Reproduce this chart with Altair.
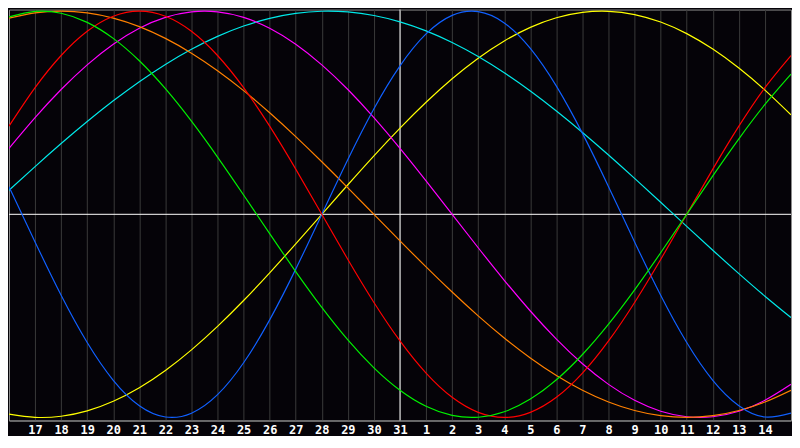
import altair as alt
import pandas as pd

# day index 0..30 across the chart (today = index 15, the 31st)
days = list(range(31))
day_labels = ["16", "17", "18", "19", "20", "21", "22", "23", "24", "25", "26", "27", "28", "29", "30", "31",
              "1", "2", "3", "4", "5", "6", "7", "8", "9", "10", "11", "12", "13", "14", "15"]
label_days = list(range(1, 30))
today_index = 15

# values (-1 .. 1) at each day line
physical = [0.1362, -0.1362, -0.3984, -0.6311, -0.8170, -0.9423, -0.9977, -0.9791, -0.8879, -0.7308,
            -0.5196, -0.2698, 0.0, 0.2698, 0.5196, 0.7308, 0.8879, 0.9791, 0.9977, 0.9423,
            0.8170, 0.6311, 0.3984, 0.1362, -0.1362, -0.3984, -0.6311, -0.8170, -0.9423, -0.9977, -0.9791]
emotional = [0.4339, 0.6235, 0.7818, 0.9010, 0.9749, 1.0, 0.9749, 0.9010, 0.7818, 0.6235,
             0.4339, 0.2225, 0.0, -0.2225, -0.4339, -0.6235, -0.7818, -0.9010, -0.9749, -1.0,
             -0.9749, -0.9010, -0.7818, -0.6235, -0.4339, -0.2225, 0.0, 0.2225, 0.4339, 0.6235, 0.7818]
intellectual = [0.9718, 0.9989, 0.9898, 0.9450, 0.8660, 0.7557, 0.6182, 0.4582, 0.2817, 0.0951,
                -0.0951, -0.2817, -0.4582, -0.6182, -0.7557, -0.8660, -0.9450, -0.9898, -0.9989, -0.9718,
                -0.9096, -0.8146, -0.6901, -0.5406, -0.3717, -0.1893, 0.0, 0.1893, 0.3717, 0.5406, 0.6901]
intuitive = [0.3247, 0.4759, 0.6142, 0.7357, 0.8372, 0.9158, 0.9694, 0.9966, 0.9966, 0.9694,
             0.9158, 0.8372, 0.7357, 0.6142, 0.4759, 0.3247, 0.1646, 0.0, -0.1646, -0.3247,
             -0.4759, -0.6142, -0.7357, -0.8372, -0.9158, -0.9694, -0.9966, -0.9966, -0.9694, -0.9158, -0.8372]
aesthetic = [-0.9834, -0.9993, -0.9940, -0.9675, -0.9203, -0.8536, -0.7686, -0.6672, -0.5517, -0.4245,
             -0.2881, -0.1456, 0.0, 0.1456, 0.2881, 0.4245, 0.5517, 0.6672, 0.7686, 0.8536,
             0.9203, 0.9675, 0.9940, 0.9993, 0.9834, 0.9465, 0.8894, 0.8133, 0.7199, 0.6112, 0.4894]
awareness = [0.9659, 0.9914, 1.0, 0.9914, 0.9659, 0.9239, 0.8660, 0.7934, 0.7071, 0.6088,
             0.5, 0.3827, 0.2588, 0.1305, 0.0, -0.1305, -0.2588, -0.3827, -0.5, -0.6088,
             -0.7071, -0.7934, -0.8660, -0.9239, -0.9659, -0.9914, -1.0, -0.9914, -0.9659, -0.9239, -0.8660]
spiritual = [0.1183, 0.2349, 0.3482, 0.4566, 0.5586, 0.6529, 0.7380, 0.8126, 0.8758, 0.9267,
             0.9646, 0.9890, 0.9996, 0.9961, 0.9786, 0.9473, 0.9028, 0.8456, 0.7765, 0.6965,
             0.6068, 0.5085, 0.4031, 0.2921, 0.1769, 0.0592, -0.0592, -0.1769, -0.2921, -0.4031, -0.5085]

cycles = ["aesthetic", "spiritual", "intuitive", "awareness", "physical", "emotional", "intellectual"]
cycle_colors = ["#ffff00", "#00e8e8", "#ff00ff", "#ff8000", "#1060ff", "#ff0000", "#00f000"]
series = {"physical": physical, "emotional": emotional, "intellectual": intellectual,
          "intuitive": intuitive, "aesthetic": aesthetic, "awareness": awareness, "spiritual": spiritual}

rows = []
for order, name in enumerate(cycles):
    for d, v in zip(days, series[name]):
        rows.append({"day": d, "value": v, "cycle": name, "order": order})
df = pd.DataFrame(rows)

label_expr = "[" + ",".join("'%s'" % s for s in day_labels) + "][datum.value]"

x_scale = alt.Scale(domain=[days[0], days[-1]], nice=False, zero=False)
y_scale = alt.Scale(domain=[-1.015, 1.008], nice=False, zero=False)

base_axis = alt.Axis(values=label_days, labelExpr=label_expr, grid=True, gridColor="#3a3a3a",
                     gridWidth=1, ticks=False, domain=True, domainColor="#8c8c8c",
                     labelColor="#ffffff", labelFont="DejaVu Sans Mono", labelFontWeight="bold",
                     labelFontSize=12, labelPadding=4, title=None, labelAngle=0)

lines = alt.Chart(df).mark_line(strokeWidth=1.2, interpolate="natural", clip=True).encode(
    x=alt.X("day:Q", scale=x_scale, axis=base_axis),
    y=alt.Y("value:Q", scale=y_scale, axis=None),
    color=alt.Color("cycle:N", scale=alt.Scale(domain=cycles, range=cycle_colors), legend=None),
    detail="cycle:N",
    order="order:Q",
)

hline = alt.Chart(pd.DataFrame({"v": [0.0]})).mark_rule(color="#ffffff", strokeWidth=1).encode(
    y=alt.Y("v:Q", scale=y_scale, axis=None)
)
vline = alt.Chart(pd.DataFrame({"d": [today_index]})).mark_rule(color="#ffffff", strokeWidth=1).encode(
    x=alt.X("d:Q", scale=x_scale, axis=base_axis)
)

chart = alt.layer(vline, hline, lines).properties(
    width=784, height=412, padding=0, background="#050308"
).configure_view(
    fill="#050308", stroke="#8c8c8c", strokeWidth=1
)

chart.save("out.html", embed_options={"renderer": "svg", "actions": False})
